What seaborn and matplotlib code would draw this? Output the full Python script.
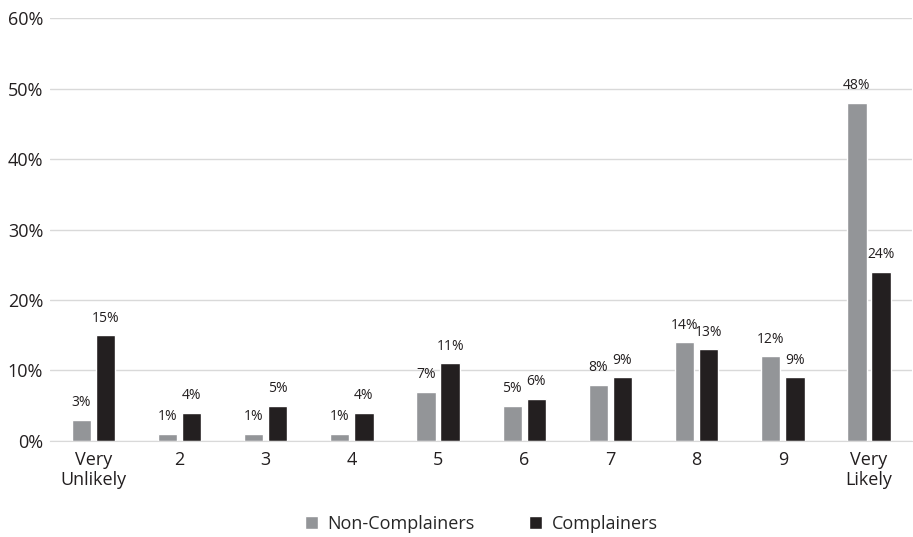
import pandas as pd
import matplotlib
matplotlib.use("Agg")
import matplotlib.pyplot as plt
import seaborn as sns

categories = ["Very\nUnlikely", "2", "3", "4", "5", "6", "7", "8", "9", "Very\nLikely"]
non_complainers = [3, 1, 1, 1, 7, 5, 8, 14, 12, 48]
complainers = [15, 4, 5, 4, 11, 6, 9, 13, 9, 24]
groups = ["Non-Complainers", "Complainers"]

df = pd.DataFrame({
    "category": categories * 2,
    "value": non_complainers + complainers,
    "group": [groups[0]] * len(categories) + [groups[1]] * len(categories),
})

sns.set_style("white")
plt.rcParams["font.family"] = ["Open Sans", "DejaVu Sans"]

fig = plt.figure(figsize=(9.13, 5.37), dpi=100)
ax = fig.add_axes([0.055, 0.179, 0.944, 0.787])

sns.barplot(
    data=df, x="category", y="value", hue="group",
    palette=["#939598", "#231f20"], width=0.56, gap=0.2,
    order=categories, hue_order=groups, ax=ax, saturation=1,
)

for cont in ax.containers:
    ax.bar_label(cont, fmt="%d%%", padding=7, fontsize=10, color="#231f20")

ax.set_ylim(0, 60)
ax.set_xlim(-0.5, len(categories) - 0.5)
ax.set_yticks(range(0, 61, 10))
ax.set_yticklabels([f"{v}%" for v in range(0, 61, 10)], fontsize=13, color="#231f20")
ax.tick_params(axis="x", labelsize=13, colors="#231f20", length=0, pad=7)
ax.tick_params(axis="y", length=0, pad=5)
ax.yaxis.grid(True, color="#d9d9d9", linewidth=1)
ax.set_axisbelow(True)
for s in ["top", "right", "left"]:
    ax.spines[s].set_visible(False)
ax.spines["bottom"].set_color("#d9d9d9")
ax.set_xlabel("")
ax.set_ylabel("")

ax.legend(
    loc="center", bbox_to_anchor=(0.5, -0.196), ncol=2, frameon=False,
    fontsize=13, handlelength=0.75, handleheight=0.75, columnspacing=3.0,
    handletextpad=0.5,
)

fig.savefig("out.png", dpi=100)
